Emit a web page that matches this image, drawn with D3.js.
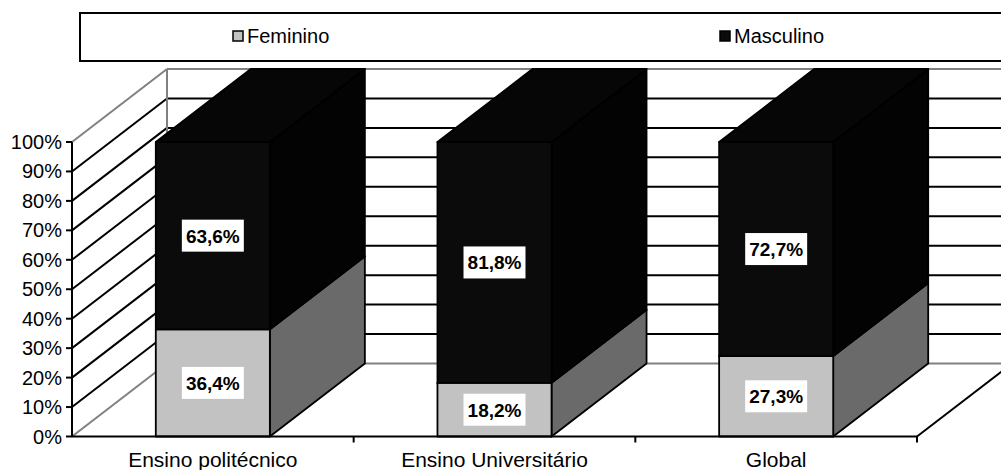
<!DOCTYPE html>
<html>
<head>
<meta charset="utf-8">
<script src="https://cdn.jsdelivr.net/npm/d3@7"></script>
<style>
  html, body { margin: 0; padding: 0; background: #fff; }
  svg { display: block; font-family: "Liberation Sans", Arial, sans-serif; }
</style>
</head>
<body>
<svg id="chart" width="1001" height="470"></svg>
<script>
// Share of students by sex, per type of higher education
const categories = ["Ensino politécnico", "Ensino Universitário", "Global"];
const seriesNames = ["Feminino", "Masculino"];
const feminino = [36.4, 18.2, 27.3];
const masculino = [63.6, 81.8, 72.7];
const tickValues = [0, 10, 20, 30, 40, 50, 60, 70, 80, 90, 100];
const tickLabels = ["0%", "10%", "20%", "30%", "40%", "50%", "60%", "70%", "80%", "90%", "100%"];

const svg = d3.select("#chart");

// oblique projection of the depth axis
const DX = 95, DY = -73;

const y = d3.scaleLinear().domain([0, 100]).range([436.5, 142]);
const x = d3.scaleBand().domain(categories).range([72, 917])
  .paddingInner(0.595).paddingOuter(0.2975);
const xCat = d3.scaleBand().domain(categories).range([72, 917]).padding(0);

const colors = {
  Feminino: { front: "#c2c2c2", side: "#6a6a6a", top: "#9a9a9a" },
  Masculino: { front: "#0b0b0b", side: "#030303", top: "#060606" }
};

const rows = categories.map((c, i) => ({ cat: c, Feminino: feminino[i], Masculino: masculino[i] }));
const stacked = d3.stack().keys(seriesNames)(rows);

// ---- walls and gridlines ----
const grid = svg.append("g");
const x0 = 72, xRight = 1012;
tickValues.forEach((t, i) => {
  const edge = (t === 0 || t === 100);
  const col = edge ? "#808080" : "#000";
  // side wall diagonal
  grid.append("line")
    .attr("x1", x0).attr("y1", y(t))
    .attr("x2", x0 + DX).attr("y2", y(t) + DY)
    .attr("stroke", col).attr("stroke-width", 2);
  // back wall line
  grid.append("line")
    .attr("x1", x0 + DX).attr("y1", y(t) + DY)
    .attr("x2", xRight).attr("y2", y(t) + DY)
    .attr("stroke", col).attr("stroke-width", 2);
});
// back corner
grid.append("line")
  .attr("x1", x0 + DX).attr("y1", y(100) + DY)
  .attr("x2", x0 + DX).attr("y2", y(0) + DY)
  .attr("stroke", "#808080").attr("stroke-width", 2);

// floor right edge
grid.append("line")
  .attr("x1", 917).attr("y1", y(0))
  .attr("x2", 917 + DX).attr("y2", y(0) + DY)
  .attr("stroke", "#000").attr("stroke-width", 2);

// ---- bars ----
const bars = svg.append("g");
const bw = x.bandwidth();
categories.forEach((c, i) => {
  const bx = x(c);
  stacked.forEach(layer => {
    const d = layer[i];
    const col = colors[layer.key];
    const yb = y(d[0]), yt = y(d[1]);
    const g = bars.append("g").attr("stroke", "#000").attr("stroke-width", 1.8)
      .attr("stroke-linejoin", "round");
    // right side face
    g.append("path").attr("fill", col.side)
      .attr("d", `M${bx + bw},${yb} L${bx + bw},${yt} L${bx + bw + DX},${yt + DY} L${bx + bw + DX},${yb + DY} Z`);
    // top face
    g.append("path").attr("fill", col.top)
      .attr("d", `M${bx},${yt} L${bx + DX},${yt + DY} L${bx + bw + DX},${yt + DY} L${bx + bw},${yt} Z`);
    // front face
    g.append("rect").attr("fill", col.front)
      .attr("x", bx).attr("y", yt).attr("width", bw).attr("height", yb - yt);
  });
});

// ---- axes ----
const axes = svg.append("g").attr("stroke", "#000").attr("stroke-width", 2);
axes.append("line").attr("x1", x0).attr("x2", x0).attr("y1", y(100)).attr("y2", y(0));
axes.append("line").attr("x1", x0).attr("x2", 917).attr("y1", y(0)).attr("y2", y(0));
tickValues.forEach(t => {
  axes.append("line").attr("x1", x0 - 6).attr("x2", x0).attr("y1", y(t)).attr("y2", y(t));
});
categories.forEach(c => {
  const xe = xCat(c) + xCat.bandwidth();
  axes.append("line").attr("x1", xe).attr("x2", xe).attr("y1", y(0)).attr("y2", y(0) + 6);
});

svg.append("g").selectAll("text").data(tickValues).join("text")
  .attr("x", 62).attr("y", t => y(t) + 7)
  .attr("text-anchor", "end").attr("font-size", 20).attr("fill", "#000")
  .text((t, i) => tickLabels[i]);

svg.append("g").selectAll("text").data(categories).join("text")
  .attr("x", c => xCat(c) + xCat.bandwidth() / 2).attr("y", 466.5)
  .attr("text-anchor", "middle").attr("font-size", 21).attr("fill", "#000")
  .text(c => c);

// ---- value labels ----
const lbl = svg.append("g");
stacked.forEach(layer => {
  layer.forEach((d, i) => {
    const c = categories[i];
    const cx = x(c) + bw / 2;
    const cy = (y(d[0]) + y(d[1])) / 2;
    const v = d[1] - d[0];
    const txt = v.toFixed(1).replace(".", ",") + "%";
    const t = lbl.append("text")
      .attr("x", cx).attr("y", cy + 7)
      .attr("text-anchor", "middle").attr("font-size", 19).attr("font-weight", "bold")
      .attr("fill", "#000").text(txt);
    const bb = t.node().getBBox();
    lbl.insert("rect", () => t.node())
      .attr("x", cx - bb.width / 2 - 4).attr("y", cy - 16)
      .attr("width", bb.width + 8).attr("height", 32).attr("fill", "#fff");
  });
});

// ---- legend ----
const leg = svg.append("g");
leg.append("rect").attr("x", 80).attr("y", 13).attr("width", 1000).attr("height", 48)
  .attr("fill", "#fff").attr("stroke", "#000").attr("stroke-width", 2);
const legX = [233, 720];
seriesNames.forEach((s, i) => {
  leg.append("rect").attr("x", legX[i]).attr("y", 31).attr("width", 10).attr("height", 10)
    .attr("fill", colors[s].front).attr("stroke", "#000").attr("stroke-width", 1.5);
  leg.append("text").attr("x", legX[i] + 14).attr("y", 43)
    .attr("font-size", 20).attr("fill", "#000").text(s);
});
</script>
</body>
</html>
